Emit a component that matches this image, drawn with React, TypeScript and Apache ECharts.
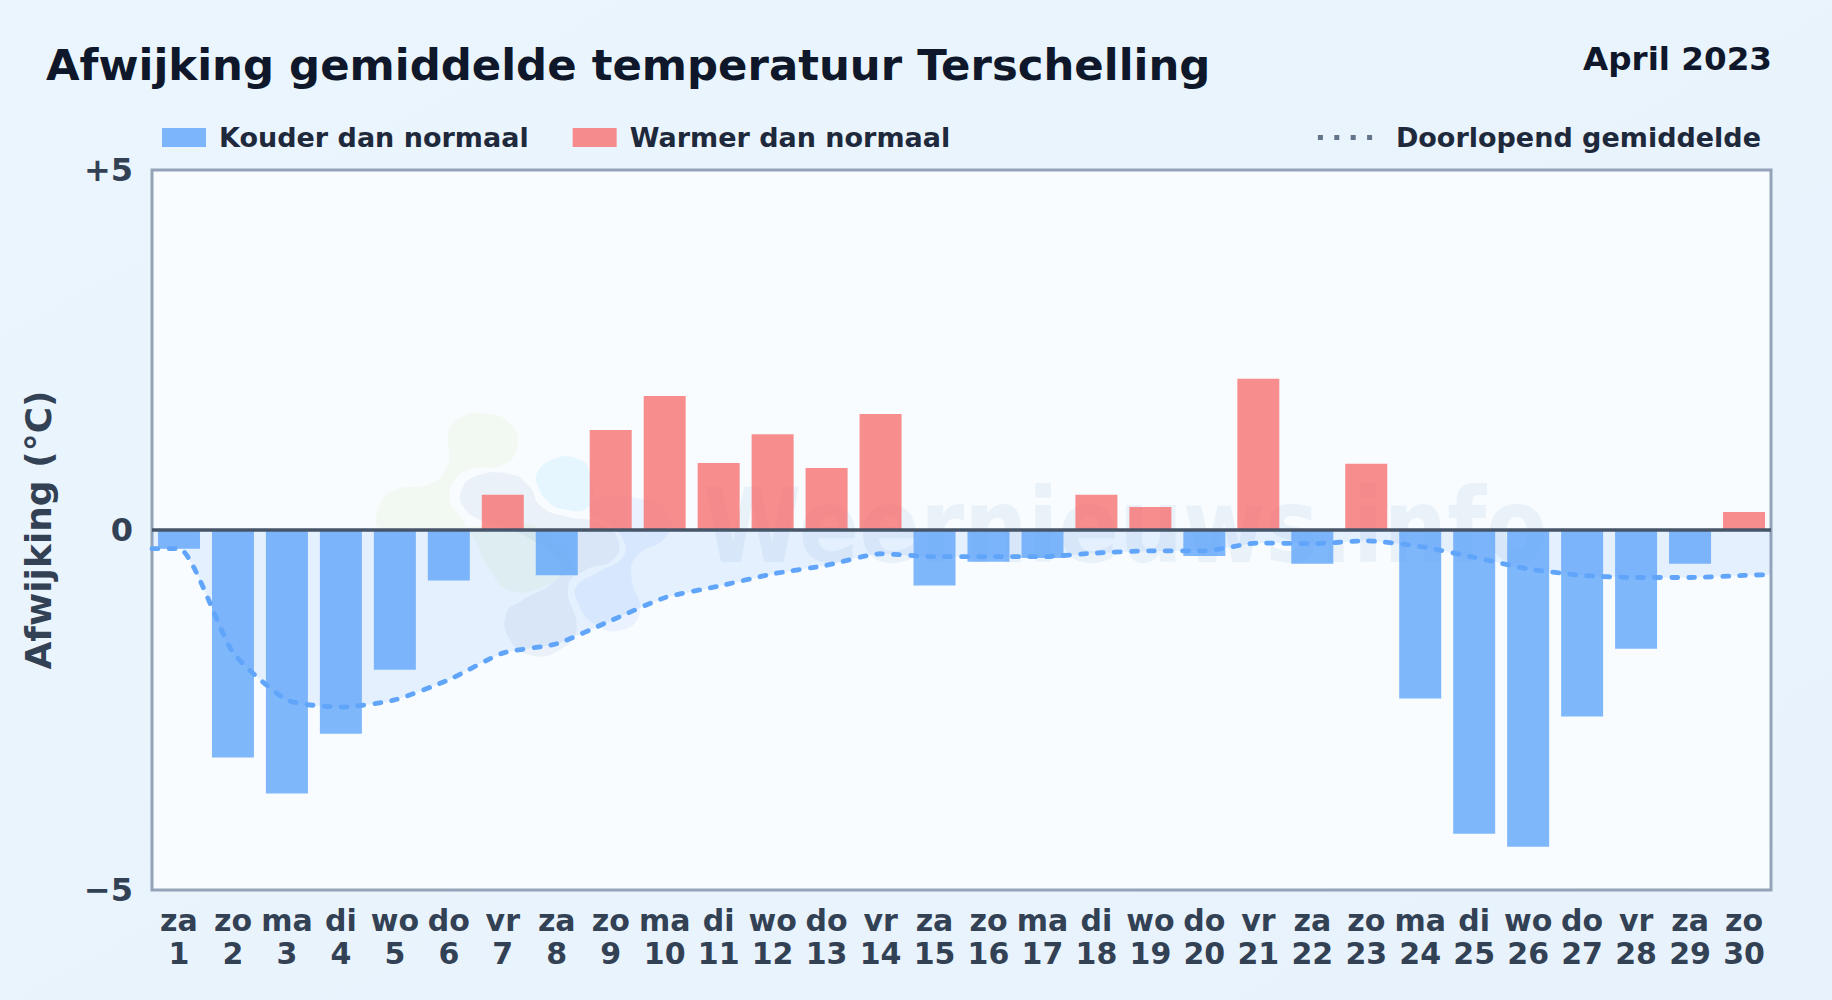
import React, { useEffect, useRef } from "react";
import * as echarts from "echarts";

const weekdays = ["za","zo","ma","di","wo","do","vr","za","zo","ma","di","wo","do","vr","za","zo","ma","di","wo","do","vr","za","zo","ma","di","wo","do","vr","za","zo"];
const dayNumbers = [1,2,3,4,5,6,7,8,9,10,11,12,13,14,15,16,17,18,19,20,21,22,23,24,25,26,27,28,29,30];
const deviations = [-0.26,-3.16,-3.66,-2.83,-1.94,-0.70,0.49,-0.63,1.39,1.86,0.93,1.33,0.86,1.61,-0.77,-0.44,-0.39,0.49,0.32,-0.36,2.10,-0.47,0.92,-2.34,-4.22,-4.40,-2.59,-1.65,-0.47,0.25];
const runningMean = [-0.26,-1.70,-2.36,-2.46,-2.36,-2.08,-1.71,-1.58,-1.26,-0.94,-0.78,-0.61,-0.49,-0.33,-0.37,-0.37,-0.37,-0.32,-0.29,-0.29,-0.18,-0.19,-0.15,-0.23,-0.38,-0.54,-0.63,-0.66,-0.66,-0.63];
const meanStart = -0.26;
const meanEnd = -0.62;
const yTicks: Record<string, string> = { "5": "+5", "0": "0", "-5": "\u22125" };

const TITLE = "Afwijking gemiddelde temperatuur Terschelling";
const PERIOD = "April 2023";
const COLD = "Kouder dan normaal";
const WARM = "Warmer dan normaal";
const MEAN = "Doorlopend gemiddelde";
const WATERMARK = "Weernieuws.info";

const blobGreen = [[370,40],[450,70],[472,140],[430,195],[330,208],[282,245],[270,300],[300,350],[345,420],[390,510],[450,572],[540,565],[600,530],[640,490],[560,400],[480,370],[300,385],[200,390],[60,385],[58,320],[100,272],[215,250],[265,190],[265,100],[300,55]];
const blobGrey = [[305,270],[350,228],[450,222],[505,255],[545,320],[620,350],[720,370],[775,420],[760,480],[680,510],[625,560],[650,690],[600,750],[520,768],[450,720],[440,640],[490,600],[590,540],[600,490],[480,400],[360,360],[310,320]];
const blobSky = [[532,220],[580,178],[650,175],[690,215],[685,320],[610,328],[560,300],[535,260]];
const blobBlue = [[700,300],[850,298],[925,340],[920,410],[830,470],[815,530],[840,640],[780,692],[700,670],[655,610],[650,560],[720,515],[790,470],[790,420],[740,365],[695,345]];

function App() {
  const ref = useRef<HTMLDivElement>(null);
  useEffect(() => {
    document.body.style.margin = "0";
    const chart = echarts.init(ref.current!, undefined, { renderer: "svg" });
    const font = "DejaVu Sans";
    const blob = (points: number[][], fill: string) => ({ type: "polygon", z: 1, silent: true, shape: { points, smooth: 0.5 }, style: { fill } });
    chart.setOption({
      animation: false,
      backgroundColor: { type: "linear", x: 0, y: 0, x2: 1, y2: 1, colorStops: [{ offset: 0, color: "#ebf5fd" }, { offset: 1, color: "#e7f2fc" }] },
      textStyle: { fontFamily: font },
      title: [
        { text: TITLE, left: 41, top: 38, textStyle: { fontFamily: font, fontWeight: "bold", fontSize: 43.4, color: "#0f172a" } },
        { text: PERIOD, right: 55, top: 37, textStyle: { fontFamily: font, fontWeight: "bold", fontSize: 32.6, color: "#0f172a" } },
      ],
      legend: [
        {
          data: [COLD, WARM], left: 157, top: 119, icon: "rect", itemWidth: 44, itemHeight: 19, itemGap: 44, selectedMode: false,
          textStyle: { fontFamily: font, fontWeight: "bold", fontSize: 27, color: "#1e293b", padding: [0, 0, 0, 8] },
        },
        {
          data: [{ name: MEAN, itemStyle: { opacity: 0 }, lineStyle: { color: "#64748b", width: 5, type: [5, 11.4], cap: "butt" } }],
          right: 66, top: 119, itemWidth: 55, itemHeight: 19, selectedMode: false,
          textStyle: { fontFamily: font, fontWeight: "bold", fontSize: 27, color: "#1e293b", padding: [0, 0, 0, 18] },
        },
      ],
      grid: { left: 152, top: 170, width: 1619, height: 720, show: true, backgroundColor: "#f8fcff", borderColor: "#94a3b8", borderWidth: 3 },
      xAxis: [
        {
          type: "category",
          data: weekdays.map((d, i) => `${d}\n${dayNumbers[i]}`),
          axisLine: { show: false }, axisTick: { show: false }, splitLine: { show: false },
          axisLabel: { interval: 0, margin: 14, fontFamily: font, fontWeight: "bold", fontSize: 30, lineHeight: 33, color: "#334155", hideOverlap: false },
        },
        { type: "value", show: false, min: 0.5, max: 30.5, splitLine: { show: false } },
      ],
      yAxis: {
        type: "value", min: -5, max: 5, interval: 5,
        name: "Afwijking (°C)", nameLocation: "middle", nameRotate: 90, nameGap: 96,
        nameTextStyle: { fontFamily: font, fontWeight: "bold", fontSize: 36, color: "#334155" },
        axisLine: { show: false }, axisTick: { show: false }, splitLine: { show: false },
        axisLabel: { margin: 19, fontFamily: font, fontWeight: "bold", fontSize: 32, color: "#334155", formatter: (v: number) => yTicks[String(v)] ?? String(v) },
      },
      graphic: [
        { type: "group", x: 360, y: 400, scaleX: 1 / 3, scaleY: 1 / 3, silent: true, children: [
          blob(blobGreen, "rgba(132,204,22,0.055)"),
          blob(blobGrey, "rgba(30,64,140,0.06)"),
          blob(blobSky, "rgba(56,189,248,0.09)"),
          blob(blobBlue, "rgba(59,130,246,0.08)"),
        ] },
        { type: "text", z: 1, silent: true, x: 703, y: 474, scaleY: 1.15, style: { text: WATERMARK, fontFamily: font, fontWeight: "bold", fontSize: 89.5, fill: "rgba(30,90,170,0.065)" } },
      ],
      series: [
        {
          name: COLD, type: "bar", barWidth: 42, barGap: "-100%", z: 3,
          itemStyle: { color: "rgba(96,165,250,0.8)" },
          data: deviations.map((v) => (v < 0 ? v : null)),
        },
        {
          name: WARM, type: "bar", barWidth: 42, barGap: "-100%", z: 3,
          itemStyle: { color: "rgba(248,113,113,0.8)" },
          data: deviations.map((v) => (v >= 0 ? v : null)),
          markLine: {
            silent: true, symbol: "none", label: { show: false }, z: 5,
            lineStyle: { color: "#475569", width: 3.5, type: "solid" },
            data: [{ yAxis: 0 }],
          },
        },
        {
          name: MEAN, type: "line", xAxisIndex: 1, z: 4, smooth: 0.2, showSymbol: false, symbol: "none",
          lineStyle: { color: "#60a5fa", width: 4.8, type: [6, 11], cap: "round" },
          areaStyle: { color: "rgba(96,165,250,0.19)", origin: 0 },
          data: [[0.5, meanStart], ...runningMean.map((v, i) => [dayNumbers[i], v]), [30.5, meanEnd]],
        },
      ],
    });
    return () => chart.dispose();
  }, []);
  return <div ref={ref} style={{ position: "absolute", left: 0, top: 0, width: 1832, height: 1000 }} />;
}

export default App;
